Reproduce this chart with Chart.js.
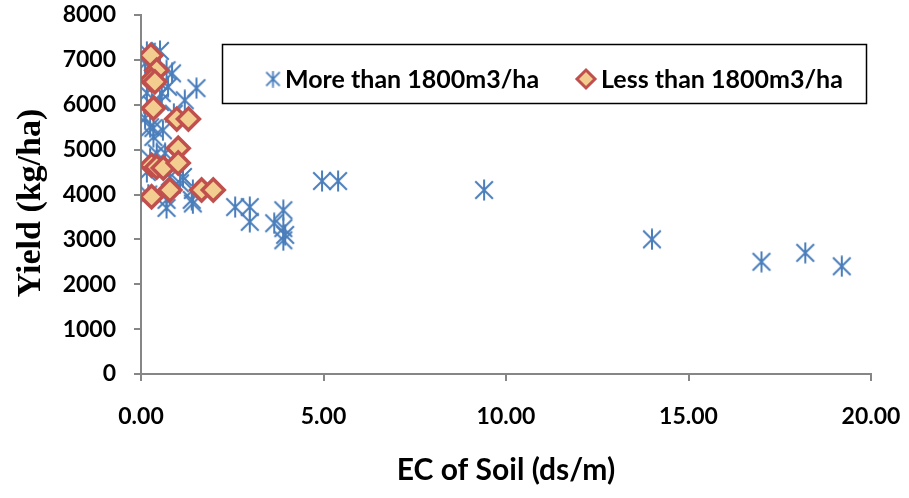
<!DOCTYPE html>
<html>
<head>
<meta charset="utf-8">
<script src="https://cdn.jsdelivr.net/npm/chart.js@4"></script>
<style>
html,body{margin:0;padding:0;background:#fff;}
#wrap{width:909px;height:498px;}
</style>
</head>
<body>
<div id="wrap"><canvas id="c" width="909" height="498"></canvas></div>
<script>
// Series: More than 1800 m3/ha (blue stars)
const moreEC = [4.96,5.40,9.40,14.0,17.0,18.2,19.2,
  2.58,2.98,2.98,3.65,3.90,3.90,3.95,3.90,
  0.16,0.52,0.11,0.70,0.74,1.52,0.57,1.20,0.16,0.52,0.34,0.11,0.25,0.60,0.34,0.43,0.66,0.16,0.79,1.15,1.07,1.42,0.70,1.39,0.70,1.42,0.44,0.85,0.30,0.25,0.20,0.90];
const moreYield = [4300,4300,4100,3000,2500,2700,2400,
  3720,3720,3390,3360,3650,3250,3100,2980,
  7180,7200,6920,6770,6400,6370,6260,6100,6260,6060,5480,5700,5500,5430,5280,4920,4920,4500,4390,4390,4250,4100,3880,3880,3700,3800,6550,6700,6000,4800,4000,5800];
// Series: Less than 1800 m3/ha (diamonds)
const lessEC = [0.27,0.43,0.29,0.38,0.34,0.98,1.30,1.02,0.29,0.43,0.61,1.02,0.29,0.79,1.66,1.98];
const lessYield = [7100,6770,6550,6510,5920,5680,5680,5030,4650,4610,4590,4700,3950,4100,4100,4100];
const seriesLabels = ['More than 1800m3/ha','Less than 1800m3/ha'];
const xTicks = [0,5,10,15,20];
const yTicks = [0,1000,2000,3000,4000,5000,6000,7000,8000];

const BLUE = '#4A7EBB';
const RED = '#C0504D';
const BEIGE = '#F2CD8F';

function makeStar(size, lw){
  const c = document.createElement('canvas');
  c.width = size; c.height = size;
  const g = c.getContext('2d');
  g.strokeStyle = BLUE; g.lineWidth = lw; g.lineCap = 'butt';
  const m = size/2, a = size*0.40, v = size*0.48;
  g.beginPath();
  g.moveTo(m-a, m-a); g.lineTo(m+a, m+a);
  g.moveTo(m+a, m-a); g.lineTo(m-a, m+a);
  g.moveTo(m, m-v); g.lineTo(m, m+v);
  g.stroke();
  return c;
}
const starImg = makeStar(22, 2);
const starSmall = makeStar(17, 1.8);

const toPts = (xs, ys) => xs.map((x, i) => ({x: x, y: ys[i]}));

const legendBox = {
  id: 'legendBox',
  afterDraw(chart){
    const ctx = chart.ctx;
    ctx.save();
    ctx.strokeStyle = '#000'; ctx.lineWidth = 1.5;
    ctx.strokeRect(222.5, 44.5, 644, 59);
    const cy = 79;
    ctx.drawImage(starSmall, 273 - 8.5, cy - 8.5);
    ctx.font = 'bold 25px Lato';
    ctx.fillStyle = '#000';
    ctx.textBaseline = 'middle';
    ctx.textAlign = 'left';
    ctx.fillText(chart.data.datasets[0].label, 285, cy + 1);
    // diamond
    ctx.beginPath();
    const dx = 586, r = 9;
    ctx.moveTo(dx, cy - r); ctx.lineTo(dx + r, cy); ctx.lineTo(dx, cy + r); ctx.lineTo(dx - r, cy); ctx.closePath();
    ctx.fillStyle = BEIGE; ctx.fill();
    ctx.strokeStyle = RED; ctx.lineWidth = 3; ctx.stroke();
    ctx.fillStyle = '#000';
    ctx.fillText(chart.data.datasets[1].label, 601, cy + 1);
    ctx.restore();
  }
};

new Chart(document.getElementById('c'), {
  type: 'scatter',
  data: {
    datasets: [
      {label: seriesLabels[0], data: toPts(moreEC, moreYield), pointStyle: starImg, order: 1,
       borderColor: BLUE, backgroundColor: BLUE},
      {label: seriesLabels[1], data: toPts(lessEC, lessYield), pointStyle: 'rectRot', order: 0,
       pointRadius: 11, borderWidth: 3.5, borderColor: RED, backgroundColor: BEIGE}
    ]
  },
  options: {
    responsive: false,
    animation: false,
    layout: {padding: {left: 0, right: 38, top: 15, bottom: 0}},
    plugins: {legend: {display: false}, tooltip: {enabled: false}},
    scales: {
      x: {
        type: 'linear', min: 0, max: 20,
        afterFit(s){ s.height = 124; s.paddingLeft = 0; s.paddingRight = 0; },
        afterBuildTicks(s){ s.ticks = xTicks.map(v => ({value: v})); },
        ticks: {color: '#000', font: {family: 'Lato', size: 23, weight: 'bold'}, padding: 22,
                callback: v => Number(v).toFixed(2), maxRotation: 0},
        grid: {drawOnChartArea: false, drawTicks: true, tickLength: 7, color: '#868686', lineWidth: 2},
        border: {color: '#868686', width: 2},
        title: {display: true, text: 'EC of Soil (ds/m)', color: '#000',
                font: {family: 'Lato', size: 30, weight: 'bold'}, padding: {top: 0, bottom: 10}}
      },
      y: {
        type: 'linear', min: 0, max: 8000,
        afterFit(s){ s.width = 141; s.paddingTop = 0; s.paddingBottom = 0; },
        afterBuildTicks(s){ s.ticks = yTicks.map(v => ({value: v})); },
        ticks: {color: '#000', font: {family: 'Lato', size: 23, weight: 'bold'}, padding: 18,
                callback: v => String(v)},
        grid: {drawOnChartArea: false, drawTicks: true, tickLength: 7, color: '#868686', lineWidth: 2},
        border: {color: '#868686', width: 2},
        title: {display: true, text: 'Yield (kg/ha)  ', color: '#000',
                font: {family: 'Liberation Serif', size: 34, weight: 'bold'}, padding: {top: 11, bottom: 0}}
      }
    }
  },
  plugins: [legendBox]
});
</script>
</body>
</html>
